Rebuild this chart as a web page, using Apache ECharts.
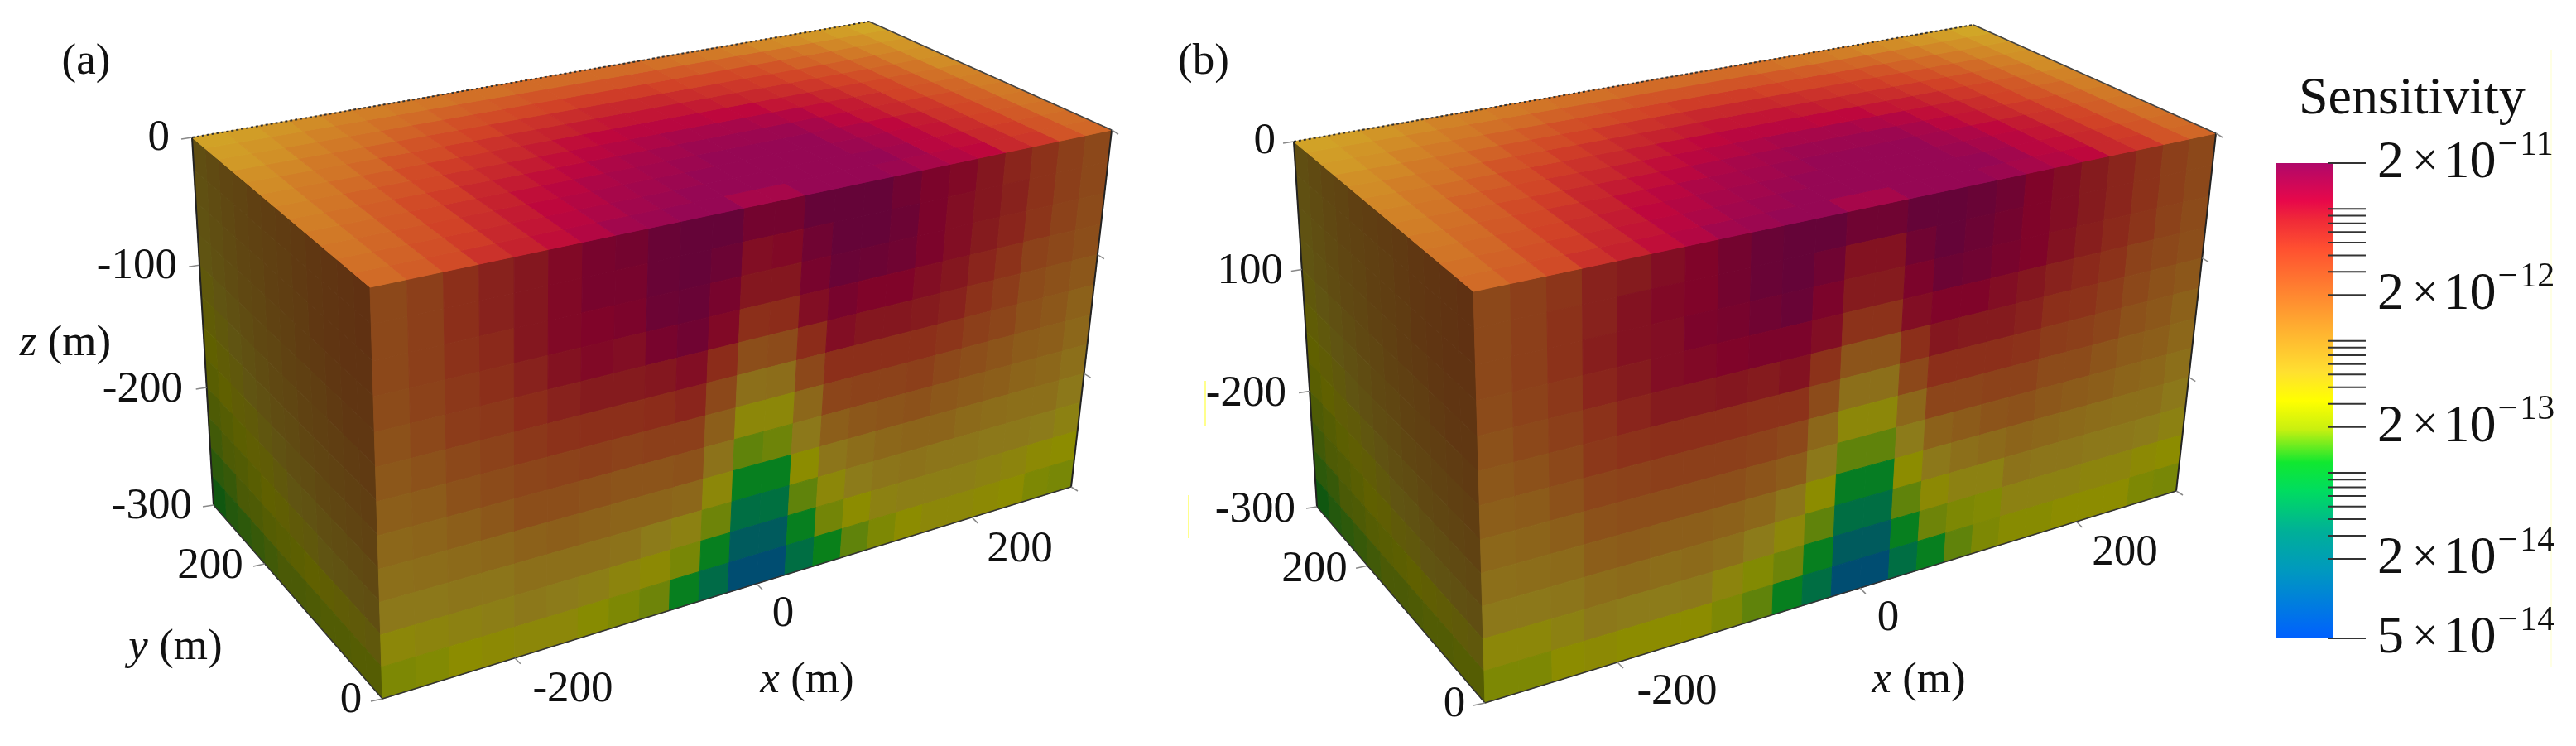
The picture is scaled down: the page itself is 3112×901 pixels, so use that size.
<!DOCTYPE html>
<html><head><meta charset="utf-8">
<style>html,body{margin:0;padding:0;background:#fff}#c{width:3112px;height:901px;filter:blur(0.6px)}</style>
<script src="https://cdn.jsdelivr.net/npm/echarts@6/dist/echarts.min.js"></script>
</head><body><div id="c"></div>
<script>
// Levels: position on the log colour bar, 0 = bottom (5e-15), 100 = top (2e-11)
const topA = [ // row 0 = y 0 (front) ... row 11 = y 300 (back); x from -300 to 300
[73,76,80,85,88,91,94,97,98,99,99,96,96,99,99,99,98,96,94,92,87,84,78,74],
[72,75,79,83,87,90,93,95,97,98,99,99,99,99,99,99,99,97,93,91,87,83,78,73],
[71,74,78,82,86,89,92,94,96,97,98,99,99,99,99,99,98,96,93,90,86,82,77,72],
[70,73,77,81,85,88,91,93,95,96,97,98,99,99,99,99,97,95,92,89,85,81,76,71],
[69,72,76,80,83,87,89,91,93,95,96,97,98,98,98,98,96,93,90,87,84,80,75,70],
[68,71,75,78,81,85,87,89,91,93,94,95,96,96,96,95,94,91,89,86,82,78,74,69],
[67,70,73,76,80,83,85,87,89,91,92,93,93,93,92,92,90,89,87,84,81,77,72,68],
[66,69,71,74,78,80,83,85,87,88,89,90,90,90,89,88,87,86,84,82,79,75,71,66],
[65,67,70,72,75,78,80,82,84,85,86,87,87,87,86,85,84,83,81,79,76,73,69,65],
[63,65,68,70,72,75,77,79,80,81,82,83,83,83,82,81,81,80,78,75,73,70,67,64],
[62,64,66,68,70,72,73,75,76,77,78,78,78,78,78,77,76,75,74,72,70,67,65,62],
[61,62,64,66,68,69,70,71,72,72,73,73,73,73,73,72,71,70,69,67,66,64,62,60]];
const frontA = [ // one list per x column; row 0 = z 0 ... row 11 = z -300
[73,73,73,72,70,68,66,63,60,57,52,47],
[76,76,76,75,73,70,67,64,61,57,53,48],
[81,81,80,78,77,73,70,66,62,58,54,50],
[85,85,83,81,78,75,72,68,63,58,55,51],
[88,88,88,85,82,78,74,71,65,60,57,52],
[91,91,91,89,85,80,75,71,66,60,56,52],
[94,94,92,91,87,81,76,70,65,60,55,49],
[95,94,93,90,87,81,75,69,64,59,53,47],
[98,98,97,94,88,82,76,69,64,56,51,44],
[99,99,98,96,90,84,76,70,63,54,46,36],
[99,97,94,91,82,73,66,59,52,44,36,26],
[95,90,88,81,71,60,52,43,36,27,19,11],
[95,91,88,82,72,61,52,44,36,28,19,11],
[99,96,94,90,82,73,63,57,50,43,36,27],
[99,99,98,94,90,81,74,66,58,52,45,37],
[99,99,97,92,88,81,75,68,61,56,50,43],
[96,97,96,92,88,81,75,69,63,58,54,47],
[93,93,93,90,87,81,76,70,64,59,55,50],
[91,90,90,88,85,79,73,68,64,58,55,52],
[88,88,87,84,80,76,71,67,62,58,55,52],
[84,85,84,80,77,74,69,66,61,57,54,51],
[80,80,79,75,72,70,67,64,60,57,53,50],
[76,76,75,73,70,68,66,63,60,56,51,47],
[73,73,72,71,68,65,63,60,57,54,50,46]];
const sideA = [ // row 0 = z 0 ...; column 0 = y 0 (front) ... column 11 = y 300 (back)
[73,72,71,70,69,68,67,66,64,63,61,59],
[73,72,71,70,69,67,66,65,64,62,60,58],
[72,72,71,70,68,67,66,64,63,61,59,57],
[71,71,70,69,68,66,65,63,62,60,58,56],
[70,70,69,67,66,65,63,62,60,58,56,54],
[69,68,67,66,65,63,62,60,58,56,54,52],
[67,66,65,64,63,61,60,58,56,54,52,50],
[65,64,63,62,60,59,57,55,53,52,50,48],
[62,61,60,59,57,56,54,52,51,49,47,45],
[59,58,57,56,54,53,51,50,48,46,45,43],
[54,53,52,51,50,49,48,47,45,44,42,41],
[47,47,46,46,45,44,44,43,42,41,40,38]];
const frontB = [
[73,73,73,72,70,68,66,63,60,57,52,47],
[76,76,76,75,73,70,67,64,61,57,52,47],
[79,80,80,78,76,73,70,66,62,58,54,50],
[85,85,86,84,80,78,74,70,66,61,57,51],
[87,89,89,87,84,80,75,71,67,62,56,50],
[90,91,90,90,87,81,76,71,66,61,56,50],
[92,92,93,91,87,81,76,71,66,62,57,50],
[95,95,94,92,88,81,76,71,65,60,53,47],
[98,98,96,93,87,80,75,69,63,56,48,43],
[99,99,98,93,89,80,73,67,58,52,44,36],
[99,96,93,90,80,72,63,57,50,43,36,27],
[96,89,87,80,69,60,52,43,35,27,19,11],
[96,89,87,80,69,60,52,43,35,27,19,11],
[99,96,93,90,81,73,63,56,50,43,36,27],
[99,99,97,92,88,81,74,65,57,51,44,36],
[98,97,96,92,87,81,74,67,60,54,47,43],
[96,95,94,90,87,81,75,69,62,54,48,47],
[92,92,92,88,85,80,75,70,64,59,54,49],
[90,90,89,85,81,77,72,68,63,58,54,49],
[87,87,86,83,80,76,72,67,62,58,54,50],
[84,84,83,80,77,74,69,66,61,57,53,50],
[80,80,79,75,73,70,67,64,60,57,53,50],
[76,76,75,73,70,68,66,63,60,56,51,47],
[73,73,72,71,68,65,63,60,57,54,50,46]];

const xTicks = [-200,0,200], yTicks = [0,200], zTicks = [0,-100,-200,-300];
const xTickLabels = ['-200','0','200'], yTickLabels = ['0','200'];
const zTickLabelsA = ['0','-100','-200','-300'], zTickLabelsB = ['0','100','-200','-300'];
const barTicks = [-10.699,-11.046,-11.097,-11.155,-11.222,-11.301,-11.398,-11.523,-11.699,
 -12.046,-12.097,-12.155,-12.222,-12.301,-12.398,-12.523,-12.699,
 -13.046,-13.097,-13.155,-13.222,-13.301,-13.398,-13.523,-13.699,-14.301];
const barLabelValues = [-10.699,-11.699,-12.699,-13.699,-14.301];
const barLabelTexts = [['2','11'],['2','12'],['2','13'],['2','14'],['5','14']];
const colorLevels = [0,14,22.5,31,37,44,50,56,65,73.5,82,88,92,100];
const colorValues = ['#0060ff','#0098c0','#00b098','#00dc60','#10e830','#c8f010','#ffff00','#ffe030','#ffb030','#ff8030','#ff5030','#f02a38','#e8084a','#b0086a'];

// layout
const SERIF = '"Liberation Serif","Times New Roman",serif';
const shade = {top:0.82, front:0.55, side:0.375};
const cornersA = {A:[232,166],B:[1050,26],C:[1343,157],D:[447,347],E:[462,844],F:[1294,588],G:[258,610]};
const cornersB = {A:[1563,171],B:[2384,30],C:[2677,161],D:[1780,352],E:[1794,849],F:[2629,593],G:[1591,612]};
const textA = {panel:['(a)',104,75], z:[[205,167],[214,322],[221,471],[232,612]], y:[[424,846],[254,684]], x:[[692,833],[946,742],[1232,664]],
  titles:[['{i|z} (m)',79,415],['{i|y} (m)',212,782],['{i|x} (m)',975,822]]};
const textB = {panel:['(b)',1454,75], z:[[1541,171],[1550,328],[1554,476],[1565,616]], y:[[1757,851],[1588,688]], x:[[2026,836],[2281,747],[2567,668]],
  titles:[['{i|x} (m)',2318,822]]};
const strayLines = [[[1456,460],[1456,514],'#ffff66'],[[1436,598],[1436,650],'#ffff66'],[[3082,60],[3082,806],'#ffffdc']];
const barTickSpan = [0.913,1.565]; // tick start and end, as fractions of the bar width

function hex(c){return [1,3,5].map(k=>parseInt(c.substr(k,2),16));}
function levelColor(l,f){
  let k=0; while(k<colorLevels.length-2 && l>colorLevels[k+1]) k++;
  const t=Math.min(1,Math.max(0,(l-colorLevels[k])/(colorLevels[k+1]-colorLevels[k])));
  const a=hex(colorValues[k]), b=hex(colorValues[k+1]);
  return 'rgb('+a.map((v,n)=>Math.round((v+(b[n]-v)*t)*f)).join(',')+')';
}
// square to quad homography: (0,0)=p0,(1,0)=p1,(1,1)=p2,(0,1)=p3
function quad(p0,p1,p2,p3){
  const sx=p0[0]-p1[0]+p2[0]-p3[0], sy=p0[1]-p1[1]+p2[1]-p3[1];
  const dx1=p1[0]-p2[0], dx2=p3[0]-p2[0], dy1=p1[1]-p2[1], dy2=p3[1]-p2[1];
  const den=dx1*dy2-dx2*dy1, g=(sx*dy2-dx2*sy)/den, h=(dx1*sy-sx*dy1)/den;
  const a=p1[0]-p0[0]+g*p1[0], b=p3[0]-p0[0]+h*p3[0], d=p1[1]-p0[1]+g*p1[1], e=p3[1]-p0[1]+h*p3[1];
  return (u,v)=>{const w=g*u+h*v+1;return [(a*u+b*v+p0[0])/w,(d*u+e*v+p0[1])/w];};
}
function faces(c){return {top:quad(c.D,c.C,c.B,c.A),front:quad(c.D,c.C,c.F,c.E),side:quad(c.D,c.A,c.G,c.E)};}
function cellSeries(proj,face,cols,rows,cells){
  return {type:'custom',xAxisIndex:0,yAxisIndex:0,silent:true,animation:false,clip:false,z:2,data:cells,
    renderItem(p,api){
      const i=api.value(0), j=api.value(1), color=levelColor(api.value(2),shade[face]);
      const pts=[[i,j],[i+1,j],[i+1,j+1],[i,j+1]].map(q=>api.coord(proj(q[0]/cols,q[1]/rows)));
      return {type:'polygon',shape:{points:pts},style:{fill:color,stroke:color,lineWidth:1}};
    }};
}
function line(a,b,stroke,w,dash){return {type:'line',shape:{x1:a[0],y1:a[1],x2:b[0],y2:b[1]},style:{stroke,lineWidth:w,lineDash:dash||null}};}
function decoSeries(c,proj){
  return {type:'custom',xAxisIndex:0,yAxisIndex:0,silent:true,animation:false,clip:false,z:4,data:[[0,0]],
    renderItem(p,api){
      const co=q=>api.coord(q), ch=[];
      const add=(a,b,s,w,d)=>ch.push(line(co(a),co(b),s,w,d));
      add(c.A,c.B,'#333',2,[3,3]); add(c.B,c.C,'#444',1.5); add(c.C,c.F,'#222',2); add(c.F,c.E,'#333',1.5);
      add(c.E,c.G,'#333',1.5); add(c.G,c.A,'#222',2);
      const tick=(q,dx,dy)=>add(q,[q[0]+dx,q[1]+dy],'#888',1.5);
      zTicks.forEach(z=>{const v=-z/300;tick(proj.side(1,v),-13,2);tick(proj.front(1,v),8,5);});
      yTicks.forEach(y=>tick(proj.side(y/300,1),-14,3));
      xTicks.forEach(x=>tick(proj.front((x+300)/600,1),7,7));
      return {type:'group',children:ch};
    }};
}
function textSeries(t,zLabels){
  const items=[];
  const tx=(s,x,y,align)=>items.push({type:'text',style:{text:s,x,y,textAlign:align,textVerticalAlign:'middle',fill:'#111',
     fontFamily:SERIF,fontSize:53,rich:{i:{fontStyle:'italic',fontFamily:SERIF,fontSize:53,fill:'#111'}}}});
  tx(t.panel[0],t.panel[1],t.panel[2],'center');
  zLabels.forEach((s,k)=>tx(s,t.z[k][0],t.z[k][1],'right'));
  yTickLabels.forEach((s,k)=>tx(s,t.y[k][0],t.y[k][1],'center'));
  xTickLabels.forEach((s,k)=>tx(s,t.x[k][0],t.x[k][1],'center'));
  t.titles.forEach(q=>tx(q[0],q[1],q[2],'center'));
  return {type:'custom',xAxisIndex:0,yAxisIndex:0,silent:true,animation:false,clip:false,z:5,data:[[0,0]],
    renderItem(p,api){
      return {type:'group',children:items.map(e=>{const q=api.coord([e.style.x,e.style.y]);
        return {type:'text',style:Object.assign({},e.style,{x:q[0],y:q[1]})};})};
    }};
}
function panelSeries(c,topV,frontV,sideV,t,zLabels){
  const proj=faces(c), out=[];
  const tc=[],fc=[],sc=[];
  topV.forEach((row,j)=>row.forEach((v,i)=>tc.push([i,j,v])));
  frontV.forEach((col,i)=>col.forEach((v,j)=>fc.push([i,j,v])));
  sideV.forEach((row,j)=>row.forEach((v,i)=>sc.push([i,j,v])));
  out.push(cellSeries(proj.side,'side',12,12,sc),cellSeries(proj.front,'front',24,12,fc),cellSeries(proj.top,'top',24,12,tc));
  out.push(decoSeries(c,proj),textSeries(t,zLabels));
  return out;
}

const barSeries = {type:'custom',xAxisIndex:1,yAxisIndex:1,silent:true,animation:false,clip:false,z:3,data:[[0,-10.699]],
  renderItem(p,api){
    const a=api.coord([0,-10.699]), b=api.coord([1,-14.301]);
    const stops=colorLevels.map((l,k)=>({offset:1-l/100,color:colorValues[k]})).reverse();
    const ticks=barTicks.map(v=>line(api.coord([barTickSpan[0],v]),api.coord([barTickSpan[1],v]),'#333',2));
    return {type:'group',children:[{type:'rect',shape:{x:a[0],y:a[1],width:b[0]-a[0],height:b[1]-a[1]},
      style:{fill:new echarts.graphic.LinearGradient(0,0,0,1,stops)}}].concat(ticks)};
  }};
const strays = {type:'custom',xAxisIndex:0,yAxisIndex:0,silent:true,animation:false,clip:false,z:1,data:[[0,0]],
  renderItem(p,api){return {type:'group',children:strayLines.map(s=>line(api.coord(s[0]),api.coord(s[1]),s[2],1.5))};}};

const chart = echarts.init(document.getElementById('c'),null,{renderer:'canvas'});
chart.setOption({
  animation:false, backgroundColor:'#fff',
  title:{text:'Sensitivity',left:2777,top:88,padding:0,textStyle:{fontFamily:SERIF,fontWeight:'normal',fontSize:64,color:'#111'}},
  grid:[{left:0,top:0,width:3112,height:901},{left:2750,top:197,width:69,height:574}],
  xAxis:[{type:'value',min:0,max:3112,show:false,gridIndex:0},{type:'value',min:0,max:1,show:false,gridIndex:1}],
  yAxis:[{type:'value',min:0,max:901,inverse:true,show:false,gridIndex:0},
    {type:'value',gridIndex:1,min:-14.301,max:-10.699,position:'right',offset:-6,z:6,
     splitLine:{show:false},axisLine:{show:false},axisTick:{show:false},
     axisLabel:{show:true,margin:59,customValues:barLabelValues,showMinLabel:true,showMaxLabel:true,
       formatter(v){const k=barLabelValues.findIndex(q=>Math.abs(q-v)<1e-6);if(k<0)return '';
         return '{b|'+barLabelTexts[k][0]+'}{x|×}{b|10}{m|−}{s|'+barLabelTexts[k][1]+'}';},
       rich:{b:{fontFamily:SERIF,fontSize:64,color:'#111'},x:{fontFamily:SERIF,fontSize:56,color:'#111',padding:[0,6,0,10]},
         m:{fontFamily:SERIF,fontSize:42,color:'#111',padding:[0,0,42,2]},s:{fontFamily:SERIF,fontSize:42,color:'#111',padding:[0,0,42,3]}}}}],
  series:[strays,barSeries]
    .concat(panelSeries(cornersA,topA,frontA,sideA,textA,zTickLabelsA))
    .concat(panelSeries(cornersB,topA,frontB,sideA,textB,zTickLabelsB))
});
</script></body></html>
